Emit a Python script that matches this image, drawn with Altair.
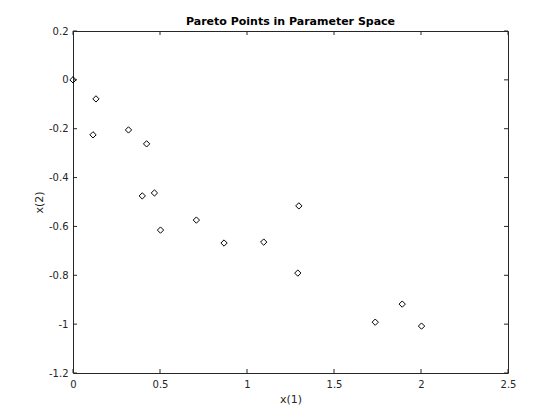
import altair as alt
import pandas as pd

x1 = [0.0, 0.132, 0.115, 0.319, 0.423, 0.398, 0.468, 0.503, 0.709, 0.868, 1.096, 1.298, 1.292, 1.892, 1.737, 2.003]
x2 = [0.0, -0.078, -0.225, -0.205, -0.262, -0.475, -0.463, -0.615, -0.574, -0.668, -0.664, -0.516, -0.791, -0.918, -0.992, -1.008]
x_ticks = [0, 0.5, 1, 1.5, 2, 2.5]
y_ticks = [0.2, 0, -0.2, -0.4, -0.6, -0.8, -1, -1.2]

W, H = 435, 342
AX = "#262626"
FONT = "DejaVu Sans"

df = pd.DataFrame({"x1": x1, "x2": x2})
xt = pd.DataFrame({"x1": x_ticks})
yt = pd.DataFrame({"x2": y_ticks})

xscale = alt.Scale(domain=[0, 2.5], nice=False, zero=False)
yscale = alt.Scale(domain=[-1.2, 0.2], nice=False, zero=False)
xaxis = alt.Axis(values=x_ticks, labelExpr="'' + datum.value", tickSize=0,
                 labelPadding=6, grid=False, domain=False, labelFlush=False)
yaxis = alt.Axis(values=y_ticks, labelExpr="'' + datum.value", tickSize=0,
                 labelPadding=5, grid=False, domain=False, labelFlush=False)

points = alt.Chart(df).mark_point(
    shape="diamond", filled=False, color="black", size=40, strokeWidth=1, opacity=1
).encode(
    x=alt.X("x1:Q", scale=xscale, title="x(1)", axis=xaxis),
    y=alt.Y("x2:Q", scale=yscale, title="x(2)", axis=yaxis),
)

tick_len = 4
bx = alt.Chart(xt).mark_rule(color=AX, strokeWidth=1).encode(
    x=alt.X("x1:Q", scale=xscale, title="x(1)", axis=xaxis), y=alt.value(H), y2=alt.value(H - tick_len))
tx = alt.Chart(xt).mark_rule(color=AX, strokeWidth=1).encode(
    x=alt.X("x1:Q", scale=xscale, title="x(1)", axis=xaxis), y=alt.value(0), y2=alt.value(tick_len))
ly = alt.Chart(yt).mark_rule(color=AX, strokeWidth=1).encode(
    y=alt.Y("x2:Q", scale=yscale, title="x(2)", axis=yaxis), x=alt.value(0), x2=alt.value(tick_len))
ry = alt.Chart(yt).mark_rule(color=AX, strokeWidth=1).encode(
    y=alt.Y("x2:Q", scale=yscale, title="x(2)", axis=yaxis), x=alt.value(W - tick_len), x2=alt.value(W))

chart = alt.layer(points, bx, tx, ly, ry).properties(
    width=W, height=H,
    title=alt.Title("Pareto Points in Parameter Space", fontSize=11, fontWeight="bold",
                    font=FONT, color="black", offset=-1),
    autosize=alt.AutoSizeParams(type="none"),
    padding={"left": 65, "top": 23, "right": 44, "bottom": 39},
).configure_view(
    stroke=AX, strokeWidth=1
).configure_axis(
    labelFont=FONT, labelFontSize=10, labelColor=AX,
    titleFont=FONT, titleFontSize=11, titleColor=AX, titleFontWeight="normal",
).configure_axisX(titlePadding=4).configure_axisY(titlePadding=4)

chart.save("out.html", embed_options={"renderer": "svg", "actions": False})
